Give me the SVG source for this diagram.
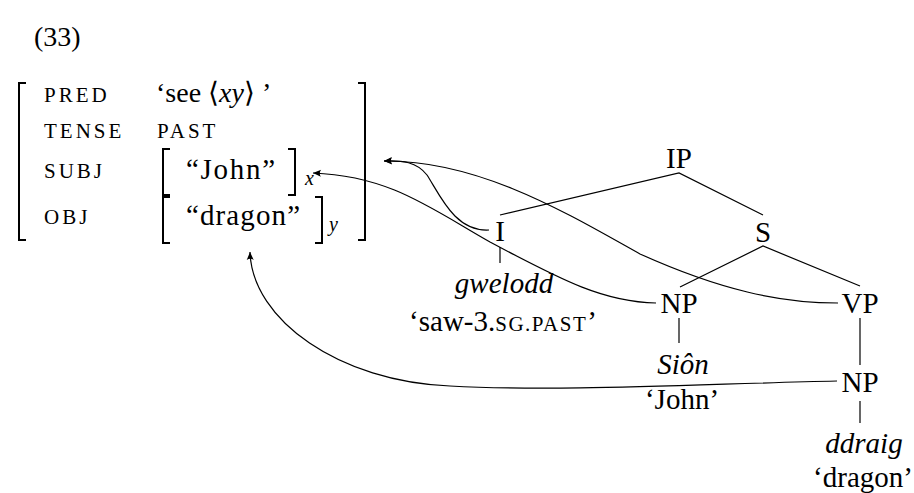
<svg xmlns="http://www.w3.org/2000/svg" width="914" height="493" viewBox="0 0 914 493" font-family="Liberation Serif">
<style>
.big{font-size:29px}
.it{font-style:italic}
.sc{font-size:21px;letter-spacing:3px}
.brk{fill:none;stroke:#000;stroke-width:2}
.edge{fill:none;stroke:#000;stroke-width:1.2}
.arr{fill:none;stroke:#000;stroke-width:1.2;marker-end:url(#tip)}
</style>
<defs>
<marker id="tip" viewBox="-10 -5 11 10" refX="0" refY="0" markerWidth="11" markerHeight="10" markerUnits="userSpaceOnUse" orient="auto">
<path d="M0,0 L-8,-3.5 Q-5.5,0 -8,3.5 Z" fill="#000"/>
</marker>
</defs>
<rect width="914" height="493" fill="#fff"/>

<text x="34" y="46" style="font-size:28px">(33)</text>

<g id="avm">
<path class="brk" d="M26,83 H19 V240 H26"/>
<path class="brk" d="M358,83 H365 V240 H358"/>
<text class="sc" x="44" y="102">PRED</text>
<text class="sc" x="44" y="138">TENSE</text>
<text class="sc" x="44" y="178">SUBJ</text>
<text class="sc" x="44" y="224">OBJ</text>
<text x="156" y="102" style="font-size:28px">‘see ⟨<tspan class="it">xy</tspan>⟩ ’</text>
<text class="sc" x="157" y="138">PAST</text>
<g id="subj-f">
<path class="brk" d="M170,149 H163 V195 H170"/>
<path class="brk" d="M288,149 H295 V195 H288"/>
<text class="big" x="186" y="179" textLength="89">“John”</text>
<text class="it" x="305" y="185" style="font-size:20px">x</text>
</g>
<g id="obj-f">
<path class="brk" d="M170,197 H163 V243 H170"/>
<path class="brk" d="M315,197 H322 V243 H315"/>
<text class="big" x="186" y="225" textLength="114">“dragon”</text>
<text class="it" x="329" y="231" style="font-size:20px">y</text>
</g>
</g>

<g id="tree-edges">
<path class="edge" d="M500,215 L679,173 L763,215"/>
<path class="edge" d="M680,287 L763,246 L860,286"/>
<path class="edge" d="M500,247 V263"/>
<path class="edge" d="M679,318 V343"/>
<path class="edge" d="M860,318 V365"/>
<path class="edge" d="M860,401 V423"/>
</g>

<g id="IP"><text class="big" x="679" y="168" text-anchor="middle">IP</text></g>
<g id="I"><text class="big" x="500" y="241" text-anchor="middle">I</text></g>
<g id="S"><text class="big" x="763" y="242" text-anchor="middle">S</text></g>
<g id="gwelodd">
<text class="big it" x="504" y="293" text-anchor="middle">gwelodd</text>
<text class="big" x="503" y="331" text-anchor="middle">‘saw-3.<tspan style="font-size:21px;letter-spacing:1.5px">SG.PAST</tspan>’</text>
</g>
<g id="NP-subj"><text class="big" x="679" y="313" text-anchor="middle">NP</text></g>
<g id="VP"><text class="big" x="860" y="313" text-anchor="middle">VP</text></g>
<g id="sion">
<text class="big it" x="683" y="374" text-anchor="middle">Siôn</text>
<text class="big" x="682" y="409" text-anchor="middle">‘John’</text>
</g>
<g id="NP-obj"><text class="big" x="860" y="392" text-anchor="middle">NP</text></g>
<g id="ddraig">
<text class="big it" x="864" y="453" text-anchor="middle">ddraig</text>
<text class="big" x="863" y="487" text-anchor="middle">‘dragon’</text>
</g>

<g id="connectors">
<path class="arr" d="M489,230 C455,232 440,195 427,175 C417,162 402,160 384,161"/>
<path class="arr" d="M838,303 C780,303 720,290 640,254 C570,215 480,160 384,161"/>
<path class="arr" d="M656,303 C605,302 565,282 490,242 C430,208 390,176 313,173"/>
<path class="arr" d="M837,381 C700,384 560,392 450,386 C340,382 252,320 250,252"/>
</g>
</svg>
